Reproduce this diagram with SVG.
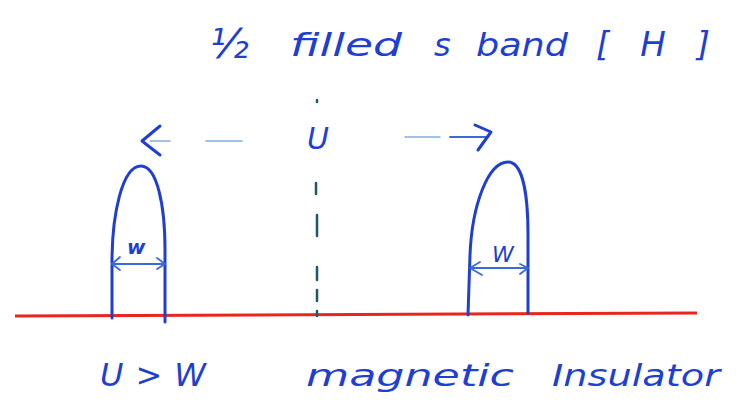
<svg xmlns="http://www.w3.org/2000/svg" width="740" height="410" viewBox="0 0 740 410">
<style>
.t{font-family:"DejaVu Sans",sans-serif;font-style:oblique;fill:#1f3fd0}
.b{fill:none;stroke:#1f3fd0;stroke-width:3;stroke-linecap:round;stroke-linejoin:round}
.thin{fill:none;stroke:#3a6ad8;stroke-width:1.8;stroke-linecap:round;stroke-linejoin:round}
.faint{fill:none;stroke:#7fb0e0;stroke-width:1.5;stroke-linecap:round}
.dash{fill:none;stroke:#1a5a6a;stroke-width:2.5;stroke-linecap:round}
</style>
<rect width="740" height="410" fill="#fff"/>
<g id="title">
<text class="t" x="210" y="58" font-size="40">½</text>
<text class="t" x="290" y="56" font-size="32" textLength="112" lengthAdjust="spacingAndGlyphs">filled</text>
<text class="t" x="434" y="56" font-size="32">s</text>
<text class="t" x="476" y="56" font-size="32" textLength="92" lengthAdjust="spacingAndGlyphs">band</text>
<text class="t" x="596" y="56" font-size="34" textLength="114" lengthAdjust="spacing">[ H ]</text>
</g>
<g id="baseline">
<path d="M15 316 L697 313" stroke="#e8261e" stroke-width="3" fill="none"/>
</g>
<g id="band-left">
<path class="b" d="M112 318 L112 262 C112 215 122 166 141 166 C157 166 165 205 165 250 L165 322"/>
<path class="thin" d="M112 264 L165 264 M120 257 L112 264 L120 270 M157 258 L165 264 L157 269"/>
<text class="t" x="127" y="254" font-size="20" font-weight="bold">w</text>
</g>
<g id="band-right">
<path class="b" d="M468 315 L470 255 C472 205 488 162 508 162 C524 162 528 200 528 235 L528 313"/>
<path class="thin" d="M470 268 L528 268 M480 262 L470 268 L482 275 M520 264 L528 268 L520 274"/>
<text class="t" x="492" y="262" font-size="22">W</text>
</g>
<g id="label-U">
<text class="t" x="307" y="149" font-size="30">U</text>
</g>
<g id="connectors">
<path class="dash" d="M317 100 L317 102 M316 183 L316 194 M317 215 L317 236 M317 267 L317 280 M317 290 L317 301 M317 311 L317 316"/>
<path class="faint" d="M150 141 L170 141 M206 141 L242 141"/>
<path class="b" stroke-width="2.5" d="M160 126 L142 141 L160 155"/>
<path class="faint" d="M405 137 L440 137"/>
<path class="thin" d="M450 137 L488 137"/>
<path class="b" stroke-width="2.5" d="M475 125 L491 132 L478 150"/>
</g>
<g id="caption">
<text class="t" x="100" y="386" font-size="32" textLength="106" lengthAdjust="spacing">U &gt; W</text>
<text class="t" x="306" y="386" font-size="30" textLength="208" lengthAdjust="spacingAndGlyphs">magnetic</text>
<text class="t" x="552" y="386" font-size="30" textLength="168" lengthAdjust="spacingAndGlyphs">Insulator</text>
</g>
</svg>
